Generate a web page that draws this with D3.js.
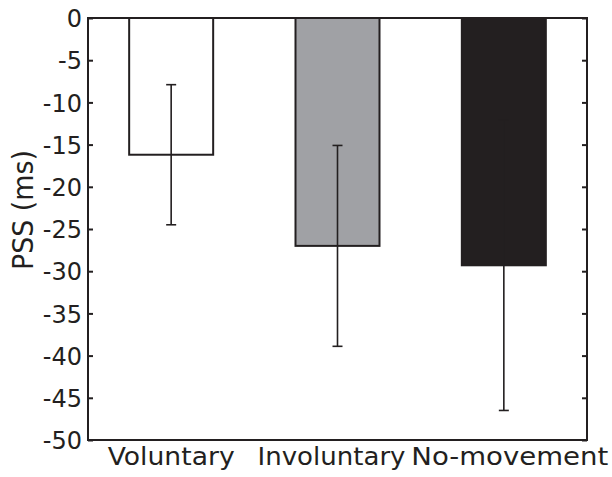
<!DOCTYPE html>
<html>
<head>
<meta charset="utf-8">
<script src="https://cdn.jsdelivr.net/npm/d3@7"></script>
<style>
  body { margin: 0; background: #fff; }
  svg { display: block; }
  text { font-family: 'DejaVu Sans', sans-serif; fill: #231f20; }
</style>
</head>
<body>
<svg id="chart" width="612" height="477"></svg>
<script>
// data
const conditions = ['Voluntary', 'Involuntary', 'No-movement']
const pssMeans = [-16.2, -27.0, -29.3]
const pssErrors = [8.3, 11.9, 17.2]
const barFills = ['#ffffff', '#a0a1a5', '#231f20']
const yTicks = [0, -5, -10, -15, -20, -25, -30, -35, -40, -45, -50]

const ink = '#231f20'
const margin = { top: 18, right: 25, bottom: 37, left: 88 }
const width = 612
const height = 477

const svg = d3.select('#chart')

const x = d3.scaleLinear()
  .domain([0.5, 3.5])
  .range([margin.left, width - margin.right])

const y = d3.scaleLinear()
  .domain([-50, 0])
  .range([height - margin.bottom, margin.top])

const barWidth = (x(2) - x(1)) * 0.505

//

const bars = svg.append('g')
bars.selectAll('rect')
  .data(pssMeans)
  .enter()
  .append('rect')
  .attr('x', (d, i) => x(i + 1) - barWidth / 2)
  .attr('y', y(0))
  .attr('width', barWidth)
  .attr('height', (d) => y(d) - y(0))
  .attr('fill', (d, i) => barFills[i])
  .attr('stroke', ink)
  .attr('stroke-width', 2)

const errs = svg.append('g')
  .attr('stroke', ink)
  .attr('stroke-width', 1.6)

pssMeans.forEach((m, i) => {
  const cx = x(i + 1)
  const lo = m - pssErrors[i]
  const hi = m + pssErrors[i]
  errs.append('line')
    .attr('x1', cx).attr('x2', cx)
    .attr('y1', y(hi)).attr('y2', y(lo))
  errs.append('line')
    .attr('x1', cx - 5).attr('x2', cx + 5)
    .attr('y1', y(hi)).attr('y2', y(hi))
  errs.append('line')
    .attr('x1', cx - 5).attr('x2', cx + 5)
    .attr('y1', y(lo)).attr('y2', y(lo))
})

// axes box
const yAxisLeft = d3.axisLeft(y)
  .tickValues(yTicks)
  .tickSize(-5)
  .tickPadding(6)
  .tickFormat((d) => String(d))

const gY = svg.append('g')
  .attr('transform', `translate(${margin.left},0)`)
  .call(yAxisLeft)
gY.select('.domain').remove()
gY.selectAll('line').attr('stroke', ink).attr('stroke-width', 2)
gY.selectAll('text')
  .style('font-size', '24px')
  .attr('fill', ink)
  .attr('dy', '0.36em')

const gYR = svg.append('g')
  .attr('transform', `translate(${width - margin.right},0)`)
  .call(d3.axisRight(y).tickValues(yTicks).tickSize(-5).tickFormat(''))
gYR.select('.domain').remove()
gYR.selectAll('line').attr('stroke', ink).attr('stroke-width', 2)

svg.append('rect')
  .attr('x', margin.left)
  .attr('y', margin.top)
  .attr('width', width - margin.left - margin.right)
  .attr('height', height - margin.top - margin.bottom)
  .attr('fill', 'none')
  .attr('stroke', ink)
  .attr('stroke-width', 2)

// category labels, stretched to the wide face of the original
const labelSpan = [127, 148, 197]
const labelShift = [0, -6, 6]
svg.append('g')
  .selectAll('text')
  .data(conditions)
  .enter()
  .append('text')
  .attr('x', (d, i) => x(i + 1) + labelShift[i])
  .attr('y', 465)
  .attr('text-anchor', 'middle')
  .attr('textLength', (d, i) => labelSpan[i])
  .attr('lengthAdjust', 'spacingAndGlyphs')
  .style('font-size', '25px')
  .text((d) => d)

svg.append('text')
  .attr('transform', 'translate(33,210) rotate(-90)')
  .attr('text-anchor', 'middle')
  .attr('textLength', 120)
  .attr('lengthAdjust', 'spacingAndGlyphs')
  .style('font-size', '29px')
  .text('PSS (ms)')
</script>
</body>
</html>
